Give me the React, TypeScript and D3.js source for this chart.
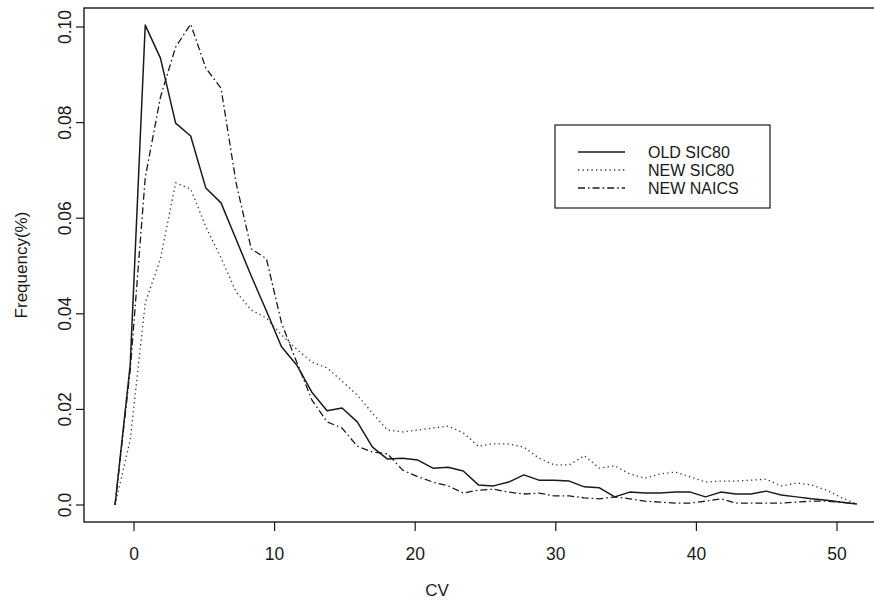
import React from "react";
import * as d3 from "d3";

// CV bin centres (x) shared by all three curves
const cv = [
  -1.35, -0.27, 0.8, 1.88, 2.96, 4.03, 5.11, 6.19, 7.26, 8.34, 9.42, 10.49, 11.57, 12.65, 13.73,
  14.8, 15.88, 16.96, 18.03, 19.11, 20.19, 21.26, 22.34, 23.42, 24.49, 25.57, 26.65, 27.73, 28.8,
  29.88, 30.96, 32.03, 33.11, 34.19, 35.26, 36.34, 37.42, 38.49, 39.57, 40.65, 41.73, 42.8, 43.88,
  44.96, 46.03, 47.11, 48.19, 49.26, 50.34, 51.42,
];

const oldSic80 = [
  0, 0.0293, 0.1004, 0.0935, 0.0799, 0.0772, 0.0663, 0.0632, 0.0556, 0.0479, 0.0406, 0.0331,
  0.0293, 0.0236, 0.0197, 0.0203, 0.0174, 0.0121, 0.0096, 0.0098, 0.0094, 0.0077, 0.0079, 0.0071,
  0.0042, 0.004, 0.0048, 0.0063, 0.0052, 0.0052, 0.005, 0.0038, 0.0036, 0.0017, 0.0027, 0.0025,
  0.0025, 0.0027, 0.0027, 0.0017, 0.0027, 0.0023, 0.0023, 0.0029, 0.0021, 0.0017, 0.0013, 0.001,
  0.0006, 0.0002,
];

const newSic80 = [
  0, 0.0136, 0.0423, 0.0515, 0.0674, 0.0661, 0.0582, 0.0517, 0.0446, 0.0408, 0.0391, 0.0356,
  0.0326, 0.0299, 0.0287, 0.0259, 0.023, 0.0192, 0.0157, 0.0153, 0.0157, 0.0161, 0.0165, 0.0151,
  0.0123, 0.0128, 0.0128, 0.0121, 0.0098, 0.0084, 0.0084, 0.0103, 0.0077, 0.0082, 0.0065, 0.0056,
  0.0065, 0.0069, 0.0059, 0.0048, 0.005, 0.005, 0.0052, 0.0054, 0.004, 0.0046, 0.0042, 0.0031,
  0.0015, 0.0002,
];

const newNaics = [
  0, 0.0282, 0.0685, 0.0853, 0.0958, 0.1006, 0.0914, 0.0872, 0.0674, 0.0536, 0.0515, 0.0381,
  0.0299, 0.022, 0.0174, 0.0161, 0.0123, 0.0111, 0.0107, 0.0073, 0.0059, 0.0048, 0.004, 0.0025,
  0.0031, 0.0033, 0.0027, 0.0023, 0.0025, 0.0019, 0.0019, 0.0015, 0.0013, 0.0017, 0.0013, 0.0008,
  0.0006, 0.0004, 0.0004, 0.0008, 0.0013, 0.0004, 0.0004, 0.0004, 0.0004, 0.0006, 0.0008, 0.0008,
  0.0006, 0.0002,
];

const seriesNames = ["OLD SIC80", "NEW SIC80", "NEW NAICS"];
const xTicks = [0, 10, 20, 30, 40, 50];
const yTicks = [0, 0.02, 0.04, 0.06, 0.08, 0.1];
const yTickLabels = ["0.0", "0.02", "0.04", "0.06", "0.08", "0.10"];

const W = 874;
const H = 601;
const FONT = "'Liberation Sans', Arial, Helvetica, sans-serif";
const INK = "#1a1a1a";

const box = { left: 84, top: 8, right: 880, bottom: 522 };

const styles = [
  { dash: undefined, width: 1.5, color: INK },
  { dash: "1.3,3.2", width: 1.3, color: "#333" },
  { dash: "7,3,1.6,3", width: 1.3, color: INK },
];

export default function App() {
  const x = d3.scaleLinear().domain([0, 50]).range([134, 837]);
  const y = d3.scaleLinear().domain([0, 0.1]).range([505, 27]);

  const line = d3
    .line<[number, number]>()
    .x((d) => x(d[0]))
    .y((d) => y(d[1]));

  const all = [oldSic80, newSic80, newNaics];
  const paths = all.map((vals) => line(cv.map((c, i) => [c, vals[i]] as [number, number])));

  const legend = { x0: 555, y0: 125, x1: 770, y1: 208, lineX0: 578, lineX1: 625, textX: 648 };
  const rows = [152, 170, 188];

  return (
    <svg
      width={W}
      height={H}
      style={{ position: "absolute", left: 0, top: 0, display: "block", background: "#fff" }}
      fontFamily={FONT}
    >
      <rect x={0} y={0} width={W} height={H} fill="#fff" />

      {/* plot frame */}
      <rect
        x={box.left}
        y={box.top}
        width={box.right - box.left}
        height={box.bottom - box.top}
        fill="none"
        stroke={INK}
        strokeWidth={1.4}
      />

      {/* x axis */}
      {xTicks.map((t) => (
        <g key={`x${t}`}>
          <line x1={x(t)} x2={x(t)} y1={box.bottom} y2={box.bottom + 9} stroke={INK} strokeWidth={1.2} />
          <text x={x(t)} y={560} textAnchor="middle" fontSize={17.5} fill={INK}>
            {t}
          </text>
        </g>
      ))}

      {/* y axis */}
      {yTicks.map((t, i) => (
        <g key={`y${t}`}>
          <line x1={box.left - 8} x2={box.left} y1={y(t)} y2={y(t)} stroke={INK} strokeWidth={1.2} />
          <text
            transform={`translate(71,${y(t)}) rotate(-90)`}
            textAnchor="middle"
            fontSize={17.5}
            fill={INK}
          >
            {yTickLabels[i]}
          </text>
        </g>
      ))}

      <text x={437} y={596} textAnchor="middle" fontSize={17} fill={INK}>
        CV
      </text>
      <text transform="translate(27,265) rotate(-90)" textAnchor="middle" fontSize={17} fill={INK}>
        Frequency(%)
      </text>

      {/* curves */}
      {paths.map((d, i) => (
        <path
          key={seriesNames[i]}
          d={d ?? ""}
          fill="none"
          stroke={styles[i].color}
          strokeWidth={styles[i].width}
          strokeDasharray={styles[i].dash}
          strokeLinejoin="round"
        />
      ))}

      {/* legend */}
      <rect
        x={legend.x0}
        y={legend.y0}
        width={legend.x1 - legend.x0}
        height={legend.y1 - legend.y0}
        fill="#fff"
        stroke={INK}
        strokeWidth={1.2}
      />
      {seriesNames.map((name, i) => (
        <g key={`leg${name}`}>
          <line
            x1={legend.lineX0}
            x2={legend.lineX1}
            y1={rows[i]}
            y2={rows[i]}
            stroke={styles[i].color}
            strokeWidth={styles[i].width}
            strokeDasharray={styles[i].dash}
          />
          <text x={legend.textX} y={rows[i] + 5.8} fontSize={16} fill={INK}>
            {name}
          </text>
        </g>
      ))}
    </svg>
  );
}
